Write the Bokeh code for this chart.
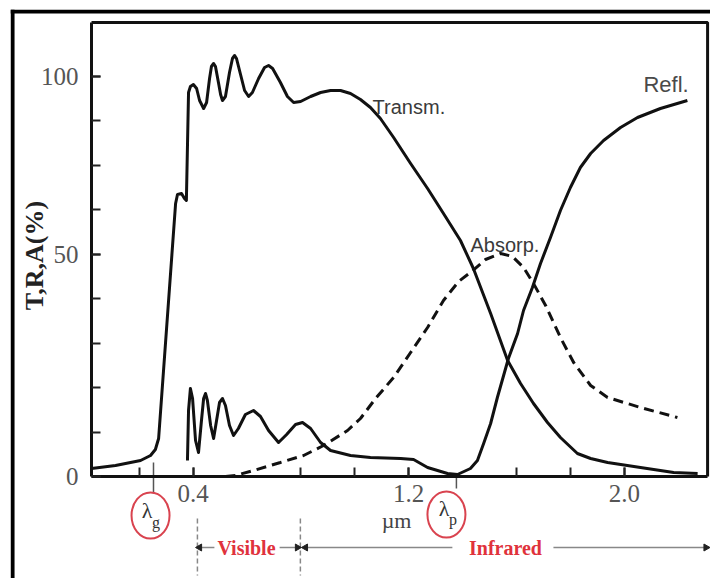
import math
from bokeh.plotting import figure
from bokeh.models import (LinearAxis, FixedTicker, PrintfTickFormatter,
                          CustomJSTickFormatter, Span)
from bokeh.embed import file_html
from bokeh.resources import INLINE
from bokeh.core.properties import value

# ---------------- data ----------------
# wavelength in micrometres, values in % (axis units of the picture)
TRANS_X = [0.023, 0.112, 0.205, 0.242, 0.260, 0.272, 0.335, 0.342, 0.357, 0.368,
           0.375, 0.383, 0.390, 0.401, 0.413, 0.424, 0.439, 0.450, 0.461, 0.468,
           0.476, 0.483, 0.494, 0.502, 0.509, 0.520, 0.535, 0.546, 0.554, 0.561,
           0.576, 0.591, 0.606, 0.620, 0.643, 0.665, 0.680, 0.695, 0.724, 0.750,
           0.773, 0.799, 0.836, 0.873, 0.910, 0.947, 0.984, 1.021, 1.058, 1.095,
           1.144, 1.207, 1.270, 1.329, 1.392, 1.440, 1.504, 1.567, 1.615, 1.663,
           1.715, 1.763, 1.826, 1.875, 1.938, 2.060, 2.183, 2.272]
TRANS_Y = [2.0, 2.75, 4.0, 5.25, 6.75, 9.5, 68.25, 70.5, 70.75, 69.5,
           69.0, 96.0, 97.5, 98.0, 97.0, 94.0, 92.0, 93.5, 99.5, 102.5,
           103.25, 102.5, 98.5, 95.5, 94.0, 95.0, 101.0, 104.5, 105.25, 104.5,
           100.5, 96.5, 95.0, 96.0, 99.5, 102.25, 102.75, 102.0, 98.5, 95.0,
           93.5, 93.75, 95.0, 96.0, 96.5, 96.5, 95.75, 94.25, 92.25, 89.5,
           84.75, 78.25, 72.0, 65.75, 59.0, 52.0, 40.75, 29.0, 23.25, 18.25,
           13.5, 9.75, 5.75, 4.5, 3.5, 2.25, 1.0, 0.75]

REFL_X = [0.379, 0.383, 0.390, 0.398, 0.409, 0.420, 0.431, 0.439, 0.446, 0.453,
          0.465, 0.476, 0.487, 0.498, 0.509, 0.520, 0.535, 0.550, 0.568, 0.594,
          0.624, 0.650, 0.680, 0.717, 0.747, 0.780, 0.806, 0.836, 0.873, 0.910,
          0.984, 1.058, 1.170, 1.218, 1.270, 1.344, 1.381, 1.429, 1.455, 1.478,
          1.504, 1.529, 1.570, 1.604, 1.626, 1.659, 1.689, 1.726, 1.763, 1.800,
          1.837, 1.875, 1.923, 1.986, 2.049, 2.134, 2.234]
REFL_Y = [4.0, 16.5, 22.0, 19.5, 9.0, 6.0, 14.0, 19.5, 20.75, 19.0,
          12.75, 9.5, 14.0, 18.5, 19.5, 17.75, 12.75, 10.25, 12.0, 15.5,
          16.5, 15.0, 11.5, 8.5, 10.5, 13.0, 13.5, 12.0, 8.5, 6.5,
          5.25, 4.75, 4.5, 4.25, 2.25, 0.75, 0.5, 2.0, 4.0, 8.25,
          13.25, 19.75, 29.5, 35.75, 41.5, 47.25, 53.25, 59.75, 66.5, 72.25,
          77.25, 80.75, 84.0, 87.25, 89.75, 92.0, 94.0]

ABS_X = [0.520, 0.557, 0.624, 0.724, 0.810, 0.884, 0.973, 1.021, 1.077, 1.144,
         1.207, 1.270, 1.329, 1.385, 1.429, 1.485, 1.541, 1.585, 1.626, 1.663,
         1.708, 1.763, 1.812, 1.875, 1.938, 2.060, 2.197]
ABS_Y = [0.0, 0.25, 1.5, 3.5, 5.25, 7.75, 11.5, 14.5, 19.5, 24.75,
         31.0, 37.25, 44.0, 48.75, 51.0, 54.25, 55.75, 55.0, 52.25, 48.25,
         42.75, 34.75, 28.5, 22.75, 19.75, 17.25, 14.75]

X_TICKS = [0.4, 1.2, 2.0]
X_MINOR = [0.2, 0.4, 0.8, 1.0, 1.2, 1.6, 1.8, 2.0]
Y_TICKS = [0.0, 55.56, 100.0]
Y_TICK_LABELS = ["0", "50", "100"]
Y_MINOR = [0.0, 11.11, 22.22, 33.33, 44.44, 55.56, 66.67, 77.78, 88.89, 100.0]

CURVE_LABELS = ["Transm.", "Absorp.", "Refl."]
CURVE_LABEL_X = [1.066, 1.429, 2.071]
CURVE_LABEL_Y = [92.5, 58.0, 98.0]

LAMBDA_X = [0.253, 1.377]          # lambda_g, lambda_p
LAMBDA_SUB = ["g", "p"]

# ---------------- figure ----------------
X_START, X_END = -0.2776, 2.3198
Y_START, Y_END = -25.5, 116.75
BOX_X0, BOX_X1 = 0.023, 2.309
BOX_Y0, BOX_Y1 = 0.0, 113.5

p = figure(width=710, height=578, x_range=(X_START, X_END), y_range=(Y_START, Y_END),
           output_backend="svg", toolbar_location=None,
           x_axis_location=None, y_axis_location=None,
           min_border=0, min_border_left=10, min_border_top=9,
           min_border_right=0, min_border_bottom=0,
           outline_line_color=None, background_fill_color="white",
           border_fill_color="white")
p.xgrid.visible = False
p.ygrid.visible = False

SERIF = "Liberation Serif"
SANS = "Liberation Sans"

xaxis = LinearAxis(fixed_location=0.0, bounds=(BOX_X0, BOX_X1),
                   ticker=FixedTicker(ticks=X_TICKS, minor_ticks=X_MINOR),
                   formatter=PrintfTickFormatter(format="%.1f"))
yaxis = LinearAxis(fixed_location=BOX_X0, bounds=(BOX_Y0, BOX_Y1),
                   ticker=FixedTicker(ticks=Y_TICKS, minor_ticks=Y_MINOR),
                   formatter=CustomJSTickFormatter(args=dict(labs=Y_TICK_LABELS),
                                                   code="return labs[index];"))
for ax in (xaxis, yaxis):
    ax.axis_line_width = 3
    ax.axis_line_color = "#111111"
    ax.major_tick_in = 9
    ax.major_tick_out = 0
    ax.minor_tick_in = 9
    ax.minor_tick_out = 0
    ax.major_tick_line_width = 2
    ax.minor_tick_line_width = 2
    ax.major_tick_line_color = "#222222"
    ax.minor_tick_line_color = "#222222"
    ax.major_label_text_font = SERIF
    ax.major_label_text_font_size = "25px"
    ax.major_label_text_color = "#555555"
xaxis.major_label_standoff = 8
yaxis.major_label_standoff = 13
p.add_layout(xaxis, "below")
p.add_layout(yaxis, "left")

# top and right edges of the inner box
p.line(x=[BOX_X0, BOX_X1, BOX_X1], y=[BOX_Y1, BOX_Y1, BOX_Y0],
       line_width=3, line_color="#111111")

# outer border (left and top)
p.add_layout(Span(location=-0.270, dimension="height", line_width=4, line_color="#000000"))
p.add_layout(Span(location=116.25, dimension="width", line_width=4, line_color="#000000"))

# curves
p.line(TRANS_X, TRANS_Y, line_width=3, line_color="#111111", line_join="round")
p.line(REFL_X, REFL_Y, line_width=3, line_color="#111111", line_join="round")
p.line(ABS_X, ABS_Y, line_width=3, line_color="#111111", line_dash="10 6")

p.text(x=CURVE_LABEL_X[:2], y=CURVE_LABEL_Y[:2], text=CURVE_LABELS[:2],
       text_font=value(SANS), text_font_size="20px", text_color="#3a3a3a",
       text_align="left", text_baseline="alphabetic")
p.text(x=CURVE_LABEL_X[2:], y=CURVE_LABEL_Y[2:], text=CURVE_LABELS[2:],
       text_font=value(SANS), text_font_size="22px", text_color="#4a4a4a",
       text_align="left", text_baseline="alphabetic")

# y axis title
p.text(x=[-0.189], y=[55.25], text=["T,R,A(%)"], angle=math.pi / 2,
       text_font=value(SERIF), text_font_style="bold", text_font_size="26px",
       text_color="#222222", text_align="center", text_baseline="middle")

# micrometre unit under 1.2
p.text(x=[1.155], y=[-11.0], text=["µm"], text_font=value(SERIF),
       text_font_size="22px", text_color="#444444", text_align="center",
       text_baseline="alphabetic")

# lambda markers
p.segment(x0=[LAMBDA_X[0], LAMBDA_X[1]], y0=[3.5, 0.0],
          x1=[LAMBDA_X[0], LAMBDA_X[1]], y1=[-4.25, -3.0],
          line_color="#555555", line_width=1.5)
p.ellipse(x=[0.242, 1.340], y=[-9.75, -9.5], width=38, height=46,
          width_units="screen", height_units="screen",
          fill_color=None, line_color="#d9434f", line_width=2)
p.text(x=[0.229, 1.331], y=[-8.5, -8.0], text=["λ", "λ"], text_font=value(SERIF),
       text_font_size="22px", text_color="#333333", text_align="center",
       text_baseline="middle")
p.text(x=[0.262, 1.364], y=[-11.5, -10.75], text=LAMBDA_SUB, text_font=value(SERIF),
       text_font_size="16px", text_color="#333333", text_align="center",
       text_baseline="middle")

# Visible / Infrared ranges
ARROW_Y = -17.75
p.segment(x0=[0.416, 0.798], y0=[-10.5, -10.5], x1=[0.416, 0.798], y1=[-24.75, -24.75],
          line_color="#888888", line_width=1.5, line_dash="5 3")
p.segment(x0=[0.416, 0.721, 0.806, 1.737], y0=[ARROW_Y] * 4,
          x1=[0.479, 0.795, 1.362, 2.301], y1=[ARROW_Y] * 4,
          line_color="#888888", line_width=1.5)
p.scatter(x=[0.424, 0.787, 0.817, 2.303], y=[ARROW_Y] * 4, marker="triangle",
          angle=[math.pi / 2, -math.pi / 2, math.pi / 2, -math.pi / 2],
          size=7, fill_color="#222222", line_color="#222222")
p.text(x=[0.598, 1.559], y=[ARROW_Y, ARROW_Y], text=["Visible", "Infrared"],
       text_font=value(SERIF), text_font_style="bold", text_font_size="20px",
       text_color="#e0323c", text_align="center", text_baseline="middle")

open("out.html", "w").write(file_html(p, INLINE))
